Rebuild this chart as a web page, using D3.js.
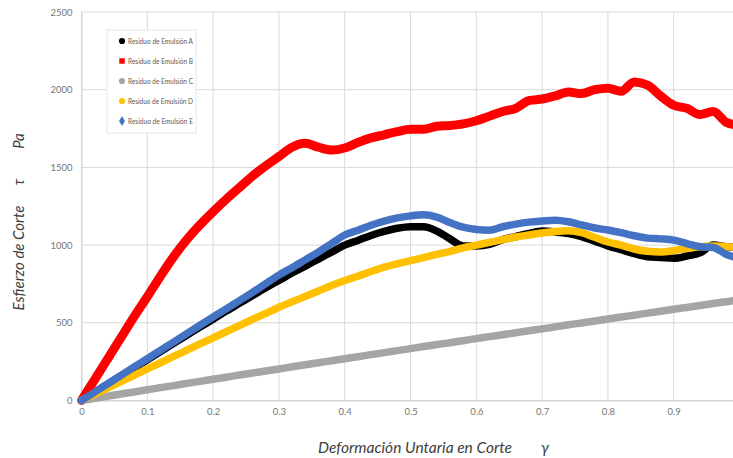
<!DOCTYPE html>
<html>
<head>
<meta charset="utf-8">
<script src="https://cdn.jsdelivr.net/npm/d3@7"></script>
<style>
  body { margin: 0; background: #fff; }
  svg { display: block; }
  text { font-family: Lato, "Liberation Sans", sans-serif; }
</style>
</head>
<body>
<div id="chart"></div>
<script>
// deformación unitaria (gamma)
const strain = [0, 0.02, 0.04, 0.06, 0.08, 0.10, 0.12, 0.14, 0.16, 0.18, 0.20, 0.22, 0.24, 0.26, 0.28, 0.30, 0.32, 0.34, 0.36, 0.38, 0.40, 0.42, 0.44, 0.46, 0.48, 0.50, 0.52, 0.54, 0.56, 0.58, 0.60, 0.62, 0.64, 0.66, 0.68, 0.70, 0.72, 0.74, 0.76, 0.78, 0.80, 0.82, 0.84, 0.86, 0.88, 0.90, 0.92, 0.94, 0.96, 0.98, 1.00];

const residuoA = [0, 52, 105, 158, 210, 262, 315, 368, 420, 472, 523, 575, 625, 675, 725, 772, 820, 865, 910, 955, 1000, 1030, 1062, 1088, 1108, 1118, 1118, 1090, 1040, 995, 995, 1005, 1035, 1055, 1075, 1090, 1085, 1075, 1055, 1025, 995, 970, 945, 925, 920, 915, 930, 950, 1000, 990, 985];
const residuoB = [0, 135, 270, 405, 540, 668, 800, 925, 1035, 1130, 1215, 1295, 1370, 1445, 1510, 1570, 1630, 1655, 1630, 1612, 1625, 1660, 1690, 1710, 1730, 1745, 1745, 1765, 1770, 1780, 1800, 1830, 1860, 1880, 1930, 1940, 1960, 1985, 1975, 2000, 2010, 1990, 2050, 2030, 1960, 1900, 1880, 1840, 1860, 1790, 1770];
const residuoC = [0, 14, 28, 42, 55, 69, 83, 96, 110, 123, 137, 150, 164, 177, 190, 203, 217, 230, 243, 256, 269, 282, 295, 308, 321, 334, 347, 360, 372, 385, 398, 411, 423, 436, 449, 461, 474, 487, 499, 512, 524, 537, 549, 562, 574, 587, 599, 611, 624, 636, 648];
const residuoD = [0, 40, 81, 122, 162, 203, 243, 284, 324, 364, 403, 443, 482, 522, 561, 600, 635, 670, 705, 740, 772, 800, 830, 858, 880, 900, 920, 940, 960, 982, 1000, 1018, 1035, 1052, 1065, 1078, 1088, 1092, 1080, 1050, 1020, 1000, 975, 960, 955, 965, 980, 990, 995, 990, 985];
const residuoE = [0, 54, 108, 162, 216, 269, 323, 376, 430, 484, 537, 590, 643, 696, 752, 807, 855, 905, 955, 1010, 1065, 1095, 1128, 1155, 1175, 1188, 1195, 1180, 1145, 1115, 1100, 1095, 1118, 1135, 1148, 1155, 1160, 1150, 1130, 1110, 1097, 1080, 1060, 1045, 1040, 1032, 1010, 990, 985, 940, 915];

const seriesNames = ["Residuo de Emulsión A", "Residuo de Emulsión B", "Residuo de Emulsión C", "Residuo de Emulsión D", "Residuo de Emulsión E"];
const xTicks = [0, 0.1, 0.2, 0.3, 0.4, 0.5, 0.6, 0.7, 0.8, 0.9, 1];
const yTicks = [0, 500, 1000, 1500, 2000, 2500];

const series = [
  { name: seriesNames[0], values: residuoA, color: "#000000", marker: "circle" },
  { name: seriesNames[1], values: residuoB, color: "#ff0000", marker: "square" },
  { name: seriesNames[2], values: residuoC, color: "#a5a5a5", marker: "circle" },
  { name: seriesNames[3], values: residuoD, color: "#ffc000", marker: "circle" },
  { name: seriesNames[4], values: residuoE, color: "#4472c4", marker: "diamond" }
];

const W = 733, H = 458;
const margin = { top: 12, left: 81.5 };
const plotW = 658, plotH = 388.5;

const svg = d3.select("#chart").append("svg")
  .attr("width", W)
  .attr("height", H);

const x = d3.scaleLinear().domain([0, 1]).range([margin.left, margin.left + plotW]);
const y = d3.scaleLinear().domain([0, 2500]).range([margin.top + plotH, margin.top]);

// gridlines
svg.append("g").selectAll("line.h")
  .data(yTicks).join("line")
  .attr("x1", x(0)).attr("x2", x(1))
  .attr("y1", d => y(d)).attr("y2", d => y(d))
  .attr("stroke", "#d9d9d9").attr("stroke-width", 1);

svg.append("g").selectAll("line.v")
  .data(xTicks).join("line")
  .attr("x1", d => x(d)).attr("x2", d => x(d))
  .attr("y1", y(0)).attr("y2", y(2500))
  .attr("stroke", "#d9d9d9").attr("stroke-width", 1);

// axes (the "1" label falls outside the picture in the original)
const yAxis = svg.append("g")
  .attr("transform", `translate(${x(0)},0)`)
  .call(d3.axisLeft(y).tickValues(yTicks).tickSize(0).tickPadding(9).tickFormat(d3.format("d")));
const xAxis = svg.append("g")
  .attr("transform", `translate(0,${y(0)})`)
  .call(d3.axisBottom(x).tickValues(xTicks.filter(d => d < 1)).tickSize(0).tickPadding(8)
    .tickFormat(d => String(d)));
[xAxis, yAxis].forEach(a => {
  a.select(".domain").attr("stroke", "#d0d0d0");
  a.selectAll("text").attr("fill", "#767676").attr("font-size", 9.5)
    .attr("font-family", "Lato, sans-serif");
});

// series
svg.append("defs").append("clipPath").attr("id", "plotclip")
  .append("rect").attr("x", 0).attr("y", 0).attr("width", W).attr("height", y(0) + 6);

const line = d3.line()
  .x((d, i) => x(strain[i]))
  .y(d => y(d))
  .curve(d3.curveMonotoneX);

function markerPath(type, size) {
  if (type === "square") return d3.symbol(d3.symbolSquare, size)();
  if (type === "diamond") return d3.symbol(d3.symbolDiamond, size)();
  return d3.symbol(d3.symbolCircle, size)();
}

const plot = svg.append("g").attr("clip-path", "url(#plotclip)");
series.forEach(s => {
  plot.append("path")
    .datum(s.values)
    .attr("fill", "none")
    .attr("stroke", s.color)
    .attr("stroke-width", s.marker === "square" ? 9 : 7.5)
    .attr("stroke-linejoin", "round")
    .attr("stroke-linecap", "round")
    .attr("d", line);
});

// legend
const leg = svg.append("g").attr("transform", "translate(107,30)");
leg.append("rect")
  .attr("width", 89).attr("height", 103)
  .attr("fill", "#fff").attr("stroke", "#e6e6e6");
series.forEach((s, i) => {
  const cy = 11 + i * 20;
  leg.append("path")
    .attr("transform", `translate(15,${cy})`)
    .attr("d", markerPath(s.marker, 30))
    .attr("fill", s.color);
  leg.append("text")
    .attr("x", 21).attr("y", cy + 3)
    .attr("font-size", 7.8)
    .attr("textLength", 65)
    .attr("lengthAdjust", "spacingAndGlyphs")
    .attr("fill", "#595959")
    .text(s.name);
});

// axis titles
const yTitle = svg.append("g").attr("transform", "translate(24,0) rotate(-90)");
yTitle.append("text").attr("x", -258).attr("y", 0).attr("text-anchor", "middle")
  .attr("font-size", 15).attr("font-style", "italic").attr("fill", "#404040")
  .text("Esfierzo de Corte");
yTitle.append("text").attr("x", -182).attr("y", 0).attr("text-anchor", "middle")
  .attr("font-size", 15).attr("font-style", "italic").attr("fill", "#404040")
  .text("τ");
yTitle.append("text").attr("x", -141).attr("y", 0).attr("text-anchor", "middle")
  .attr("font-size", 15).attr("font-style", "italic").attr("fill", "#404040")
  .text("Pa");

svg.append("text").attr("x", 415).attr("y", 453).attr("text-anchor", "middle")
  .attr("font-size", 15.5).attr("font-style", "italic").attr("fill", "#404040")
  .text("Deformación Untaria en Corte");
svg.append("text").attr("x", 545).attr("y", 453).attr("text-anchor", "middle")
  .attr("font-size", 15.5).attr("font-style", "italic").attr("fill", "#404040")
  .text("γ");
</script>
</body>
</html>
